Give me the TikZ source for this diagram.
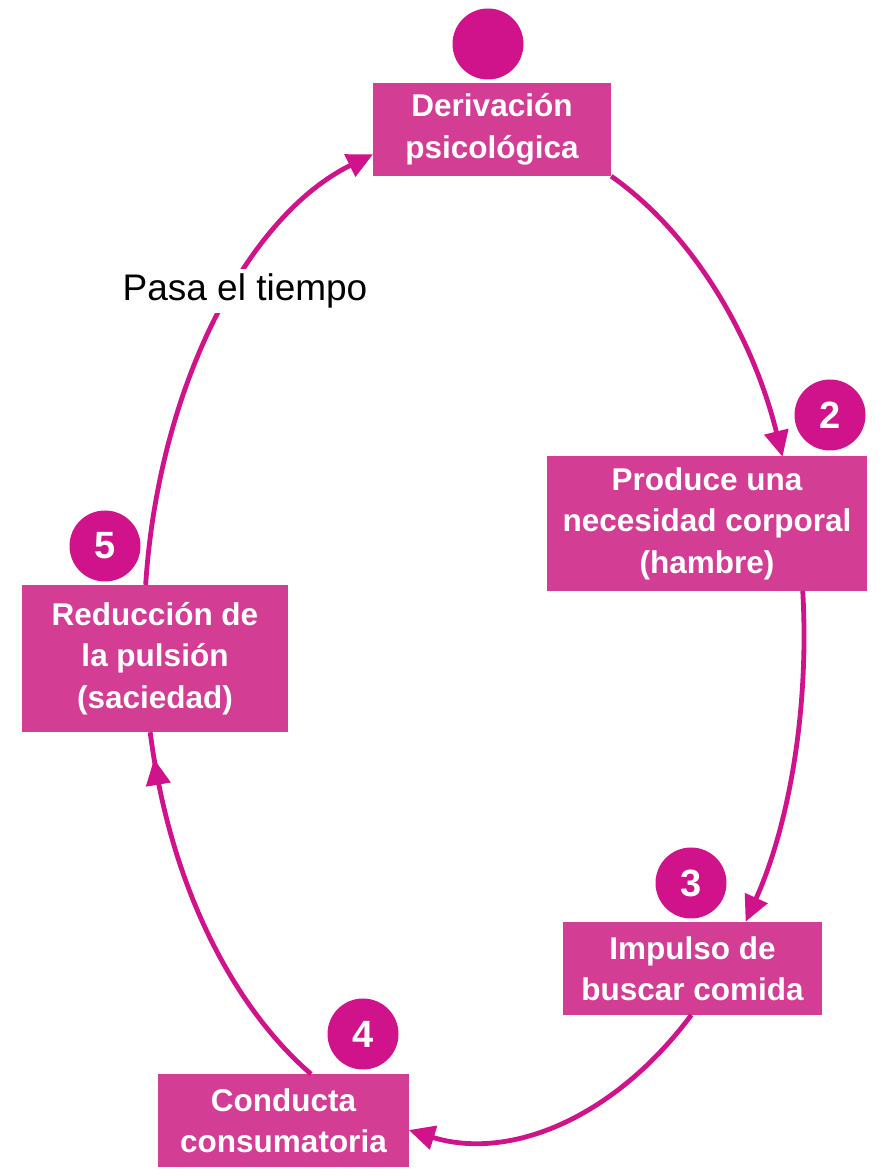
\documentclass[tikz,border=0pt]{standalone}
\usepackage{fontspec}
\setmainfont{Liberation Sans}
\usetikzlibrary{arrows.meta,decorations.markings,calc}
\definecolor{boxc}{HTML}{D33D94}
\definecolor{magc}{HTML}{D0138B}
\begin{document}
\begin{tikzpicture}[x=1pt,y=1pt,
  stepbox/.style={rectangle, fill=boxc, text=white, inner sep=0pt,
    font=\fontsize{31.5}{41.5}\selectfont\bfseries, align=center},
  numdot/.style={circle, fill=magc, text=white, minimum size=71pt, inner sep=0pt,
    font=\fontsize{38}{38}\selectfont\bfseries},
  conn/.style={magc, line width=4.8pt},
  tip/.style={-{Triangle[length=26pt,width=24pt]}},
  midtip/.style={postaction={decorate}, decoration={markings,
    mark=at position 0.93 with {\arrow{Triangle[length=26pt,width=24pt]}}}}
]
\useasboundingbox (0,0) rectangle (889,1176);
\coordinate (E) at (474,541);

% boxes
\node[stepbox, minimum width=238pt, minimum height=93pt] (n1) at (492,1046.5) {Derivación\\psicológica};
\node[stepbox, minimum width=320pt, minimum height=135pt] (n2) at (707,652.5) {Produce una\\necesidad corporal\\(hambre)};
\node[stepbox, minimum width=259pt, minimum height=93pt] (n3) at (692.5,207.5) {Impulso de\\buscar comida};
\node[stepbox, minimum width=251pt, minimum height=93pt] (n4) at (283.5,55.5) {Conducta\\consumatoria};
\node[stepbox, minimum width=266pt, minimum height=147pt] (n5) at (155,517.5) {Reducción de\\la pulsión\\(saciedad)};

% number dots
\node[numdot] (c1) at (488,1132) {};
\node[numdot] (c2) at (830,761) {2};
\node[numdot] (c3) at (691,293) {3};
\node[numdot] (c4) at (363,142) {4};
\node[numdot] (c5) at (105,630) {5};

% connectors (arcs of one ellipse)
\draw[conn, tip] (n1.south east) arc[start angle=65.4, end angle=20.7, x radius=330pt, y radius=505pt];
\draw[conn, tip] ($(E)+(5:330pt and 505pt)$) arc[start angle=5, end angle=-34.6, x radius=330pt, y radius=505pt];
\draw[conn, tip] ($(E)+(-48.8:330pt and 505pt)$) arc[start angle=-48.8, end angle=-101.4, x radius=330pt, y radius=505pt];
\draw[conn, midtip] ($(E)+(-119.6:330pt and 505pt)$) arc[start angle=-119.6, end angle=-168.9, x radius=330pt, y radius=505pt];
\draw[conn, tip] ($(E)+(174.3:330pt and 505pt)$) arc[start angle=174.3, end angle=107.8, x radius=330pt, y radius=505pt];

% label
\node[fill=white, inner xsep=2pt, inner ysep=5pt, font=\fontsize{37}{37}\selectfont] (lbl) at (245,885) {Pasa el tiempo};
\end{tikzpicture}
\end{document}
